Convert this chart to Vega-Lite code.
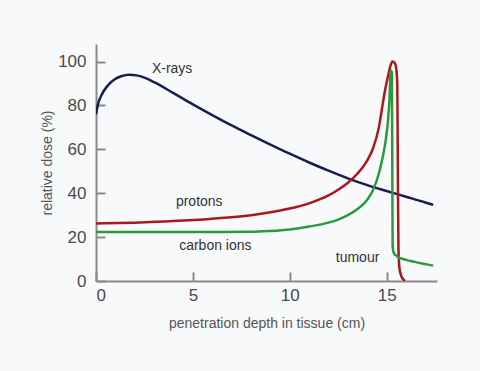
{
  "$schema": "https://vega.github.io/schema/vega-lite/v6.json",
  "width": 341,
  "height": 237,
  "autosize": "none",
  "padding": {"left": 96, "top": 44, "right": 43, "bottom": 90},
  "background": "#f8f9fb",
  "config": {
    "view": {"stroke": null},
    "font": "Liberation Sans",
    "axis": {
      "grid": false,
      "domainColor": "#8a8a8a",
      "domainWidth": 2,
      "tickColor": "#8a8a8a",
      "tickWidth": 2,
      "tickSize": -9,
      "labelFont": "Liberation Sans",
      "labelFontSize": 17,
      "labelColor": "#4a4a4a",
      "titleFont": "Liberation Sans",
      "titleFontSize": 14,
      "titleFontWeight": "normal",
      "titleColor": "#555555"
    }
  },
  "datasets": {
    "curves": [
      {"series": "X-rays", "x": 0, "y": 76},
      {"series": "X-rays", "x": 0.1, "y": 80.5},
      {"series": "X-rays", "x": 0.3, "y": 85},
      {"series": "X-rays", "x": 0.6, "y": 89},
      {"series": "X-rays", "x": 0.95, "y": 91.8},
      {"series": "X-rays", "x": 1.3, "y": 93.3},
      {"series": "X-rays", "x": 1.7, "y": 94},
      {"series": "X-rays", "x": 2.1, "y": 93.7},
      {"series": "X-rays", "x": 2.6, "y": 92.3},
      {"series": "X-rays", "x": 3.0, "y": 90.6},
      {"series": "X-rays", "x": 4.0, "y": 85.6},
      {"series": "X-rays", "x": 5.0, "y": 80.5},
      {"series": "X-rays", "x": 6.0, "y": 75.6},
      {"series": "X-rays", "x": 7.0, "y": 70.9},
      {"series": "X-rays", "x": 8.0, "y": 66.5},
      {"series": "X-rays", "x": 9.0, "y": 62.2},
      {"series": "X-rays", "x": 10.0, "y": 58.0},
      {"series": "X-rays", "x": 11.0, "y": 54.0},
      {"series": "X-rays", "x": 12.0, "y": 50.3},
      {"series": "X-rays", "x": 13.0, "y": 46.8},
      {"series": "X-rays", "x": 14.0, "y": 43.7},
      {"series": "X-rays", "x": 15.0, "y": 41.0},
      {"series": "X-rays", "x": 16.0, "y": 38.4},
      {"series": "X-rays", "x": 17.0, "y": 35.8},
      {"series": "X-rays", "x": 17.4, "y": 34.7},
      {"series": "protons", "x": 0, "y": 26.2},
      {"series": "protons", "x": 2, "y": 26.6},
      {"series": "protons", "x": 4, "y": 27.3},
      {"series": "protons", "x": 6, "y": 28.4},
      {"series": "protons", "x": 8, "y": 30.0},
      {"series": "protons", "x": 9, "y": 31.3},
      {"series": "protons", "x": 10, "y": 33.0},
      {"series": "protons", "x": 11, "y": 35.4},
      {"series": "protons", "x": 12, "y": 39.0},
      {"series": "protons", "x": 12.5, "y": 41.6},
      {"series": "protons", "x": 13, "y": 44.8},
      {"series": "protons", "x": 13.5, "y": 49.0},
      {"series": "protons", "x": 14, "y": 55.0},
      {"series": "protons", "x": 14.3, "y": 60.5},
      {"series": "protons", "x": 14.6, "y": 70},
      {"series": "protons", "x": 14.75, "y": 78},
      {"series": "protons", "x": 14.9, "y": 86},
      {"series": "protons", "x": 15.05, "y": 92.5},
      {"series": "protons", "x": 15.18, "y": 97.5},
      {"series": "protons", "x": 15.3, "y": 100},
      {"series": "protons", "x": 15.42, "y": 99.3},
      {"series": "protons", "x": 15.5, "y": 96.5},
      {"series": "protons", "x": 15.55, "y": 90},
      {"series": "protons", "x": 15.58, "y": 50},
      {"series": "protons", "x": 15.61, "y": 15},
      {"series": "protons", "x": 15.66, "y": 6},
      {"series": "protons", "x": 15.75, "y": 2.5},
      {"series": "protons", "x": 15.85, "y": 0.8},
      {"series": "protons", "x": 15.95, "y": 0},
      {"series": "carbon ions", "x": 0, "y": 22.3},
      {"series": "carbon ions", "x": 4, "y": 22.3},
      {"series": "carbon ions", "x": 8, "y": 22.4},
      {"series": "carbon ions", "x": 9, "y": 22.8},
      {"series": "carbon ions", "x": 10, "y": 23.5},
      {"series": "carbon ions", "x": 11, "y": 24.8},
      {"series": "carbon ions", "x": 12, "y": 26.6},
      {"series": "carbon ions", "x": 12.5, "y": 28.0},
      {"series": "carbon ions", "x": 13, "y": 30.0},
      {"series": "carbon ions", "x": 13.5, "y": 32.8},
      {"series": "carbon ions", "x": 14, "y": 37.0},
      {"series": "carbon ions", "x": 14.3, "y": 41.5},
      {"series": "carbon ions", "x": 14.6, "y": 49},
      {"series": "carbon ions", "x": 14.8, "y": 56.5},
      {"series": "carbon ions", "x": 14.95, "y": 64},
      {"series": "carbon ions", "x": 15.07, "y": 73},
      {"series": "carbon ions", "x": 15.15, "y": 83},
      {"series": "carbon ions", "x": 15.21, "y": 96},
      {"series": "carbon ions", "x": 15.27, "y": 95},
      {"series": "carbon ions", "x": 15.29, "y": 60},
      {"series": "carbon ions", "x": 15.31, "y": 16},
      {"series": "carbon ions", "x": 15.37, "y": 12.8},
      {"series": "carbon ions", "x": 15.55, "y": 11.2},
      {"series": "carbon ions", "x": 16.0, "y": 9.6},
      {"series": "carbon ions", "x": 16.5, "y": 8.6},
      {"series": "carbon ions", "x": 17.0, "y": 7.7},
      {"series": "carbon ions", "x": 17.4, "y": 7}
    ],
    "labels": [
      {"label": "X-rays", "x": 3.93, "y": 96.8},
      {"label": "protons", "x": 5.33, "y": 36.1},
      {"label": "carbon ions", "x": 6.16, "y": 16.0},
      {"label": "tumour", "x": 13.5, "y": 10.5}
    ]
  },
  "layer": [
    {
      "data": {"name": "curves"},
      "mark": {"type": "line", "interpolate": "monotone", "strokeWidth": 2.5, "clip": true},
      "encoding": {
        "x": {
          "field": "x", "type": "quantitative",
          "scale": {"domain": [0, 17.6], "nice": false, "zero": false},
          "axis": {"values": [0, 5, 10, 15], "format": "d", "labelPadding": 15, "title": "penetration depth in tissue (cm)", "titlePadding": 13}
        },
        "y": {
          "field": "y", "type": "quantitative",
          "scale": {"domain": [0, 108], "nice": false},
          "axis": {"values": [0, 20, 40, 60, 80, 100], "labelPadding": 19, "title": "relative dose (%)", "titlePadding": 3}
        },
        "color": {
          "field": "series", "type": "nominal",
          "scale": {"domain": ["X-rays", "protons", "carbon ions"], "range": ["#1b1d4f", "#a8191f", "#2a9a3a"]},
          "legend": null
        },
        "detail": {"field": "series"}
      }
    },
    {
      "data": {"name": "labels"},
      "mark": {"type": "text", "fontSize": 14, "color": "#333333", "font": "Liberation Sans"},
      "encoding": {
        "x": {"field": "x", "type": "quantitative"},
        "y": {"field": "y", "type": "quantitative"},
        "text": {"field": "label"}
      }
    }
  ]
}
